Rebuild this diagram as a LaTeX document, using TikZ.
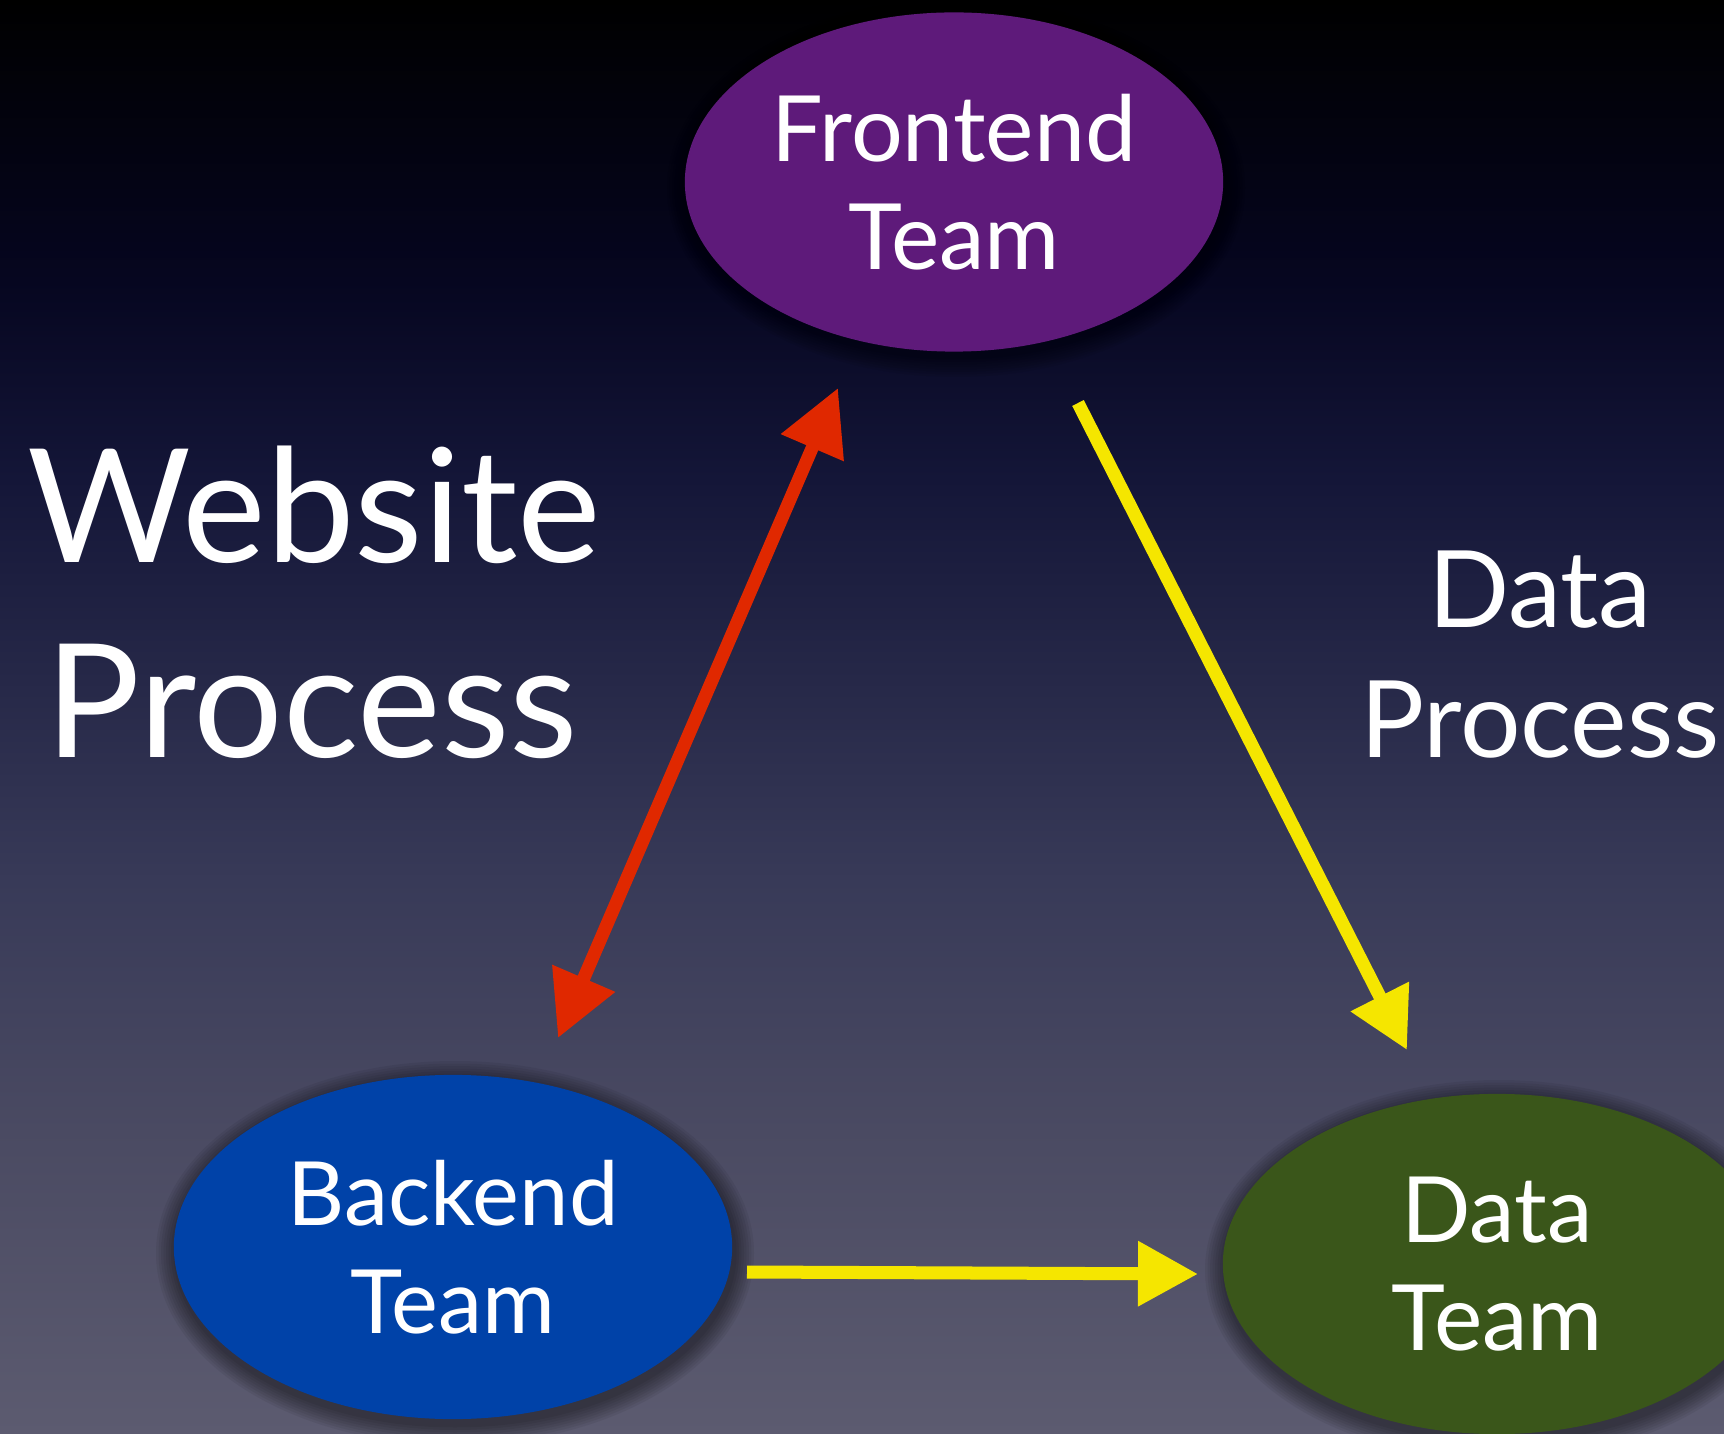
\documentclass[tikz,border=0pt]{standalone}
\usepackage{fontspec}
\setmainfont{Lato}
\usetikzlibrary{arrows.meta,shapes.geometric}
\definecolor{bg0}{HTML}{000000}
\definecolor{bg1}{HTML}{060620}
\definecolor{bg2}{HTML}{141638}
\definecolor{bg3}{HTML}{383A58}
\definecolor{bg4}{HTML}{4A4A62}
\definecolor{bg5}{HTML}{5C5B70}
\definecolor{fecol}{HTML}{5E1A7A}
\definecolor{becol}{HTML}{0042A8}
\definecolor{dtcol}{HTML}{3A561A}
\definecolor{redc}{HTML}{E02800}
\definecolor{yelc}{HTML}{F5E600}
\pgfdeclareverticalshading{bgshade}{100bp}{color(0bp)=(bg5); color(25bp)=(bg5); color(35.6bp)=(bg4); color(44.3bp)=(bg3); color(58.3bp)=(bg2); color(65.2bp)=(bg1); color(75bp)=(bg0); color(100bp)=(bg0)}
\begin{document}
\begin{tikzpicture}[x=0.01cm,y=-0.01cm,
  team/.style={ellipse, inner sep=0pt, text=white, align=center, font=\fontsize{26}{30.7}\selectfont},
  arr/.style={line width=1.3mm, -{Triangle[length=6mm,width=6.2mm]}},
  biarr/.style={line width=1.3mm, {Triangle[length=6.5mm,width=6.5mm]}-{Triangle[length=6.5mm,width=6.5mm]}},
  title/.style={text=white, inner sep=0pt}
]
\useasboundingbox (0,0) rectangle (1724,1434);
\shade[shading=bgshade] (0,0) rectangle (1724,1434);
% soft shadows
\foreach \cx/\cy/\rx/\ry in {954/182/269/169, 453/1247/279/172, 1497/1264/274/170} {
  \foreach \k in {1,...,8}
    \fill[black,opacity=0.06] (\cx+2,\cy+6) ellipse ({\rx+\k*2.5} and {\ry+\k*2.5});
}
% team nodes
\node[team, fill=fecol, minimum width=5.38cm, minimum height=3.39cm] (fe) at (954,182) {Frontend\\Team};
\node[team, fill=becol, minimum width=5.58cm, minimum height=3.44cm, font=\fontsize{25.2}{30.7}\selectfont] (be) at (453,1247) {Backend\\Team};
\node[team, fill=dtcol, minimum width=5.48cm, minimum height=3.40cm] (dt) at (1497,1264) {Data\\Team};
% labels
\node[title, align=left, anchor=north west, font=\fontsize{45}{55.5}\selectfont] (wp) at (27,445) {Website\\\hspace*{0.18cm}Process};
\node[title, align=center, anchor=north, font=\fontsize{30.4}{37}\selectfont] (dp) at (1540,550) {Data\\Process};
% connectors
\coordinate (r1) at (838,388);
\coordinate (r2) at (558,1038);
\coordinate (y1) at (1078,403);
\coordinate (y2) at (1407,1050);
\coordinate (y3) at (747,1272);
\coordinate (y4) at (1198,1274);
\draw[biarr, redc] (r2) -- (r1);
\draw[arr, yelc] (y1) -- (y2);
\draw[arr, yelc] (y3) -- (y4);
\end{tikzpicture}
\end{document}
